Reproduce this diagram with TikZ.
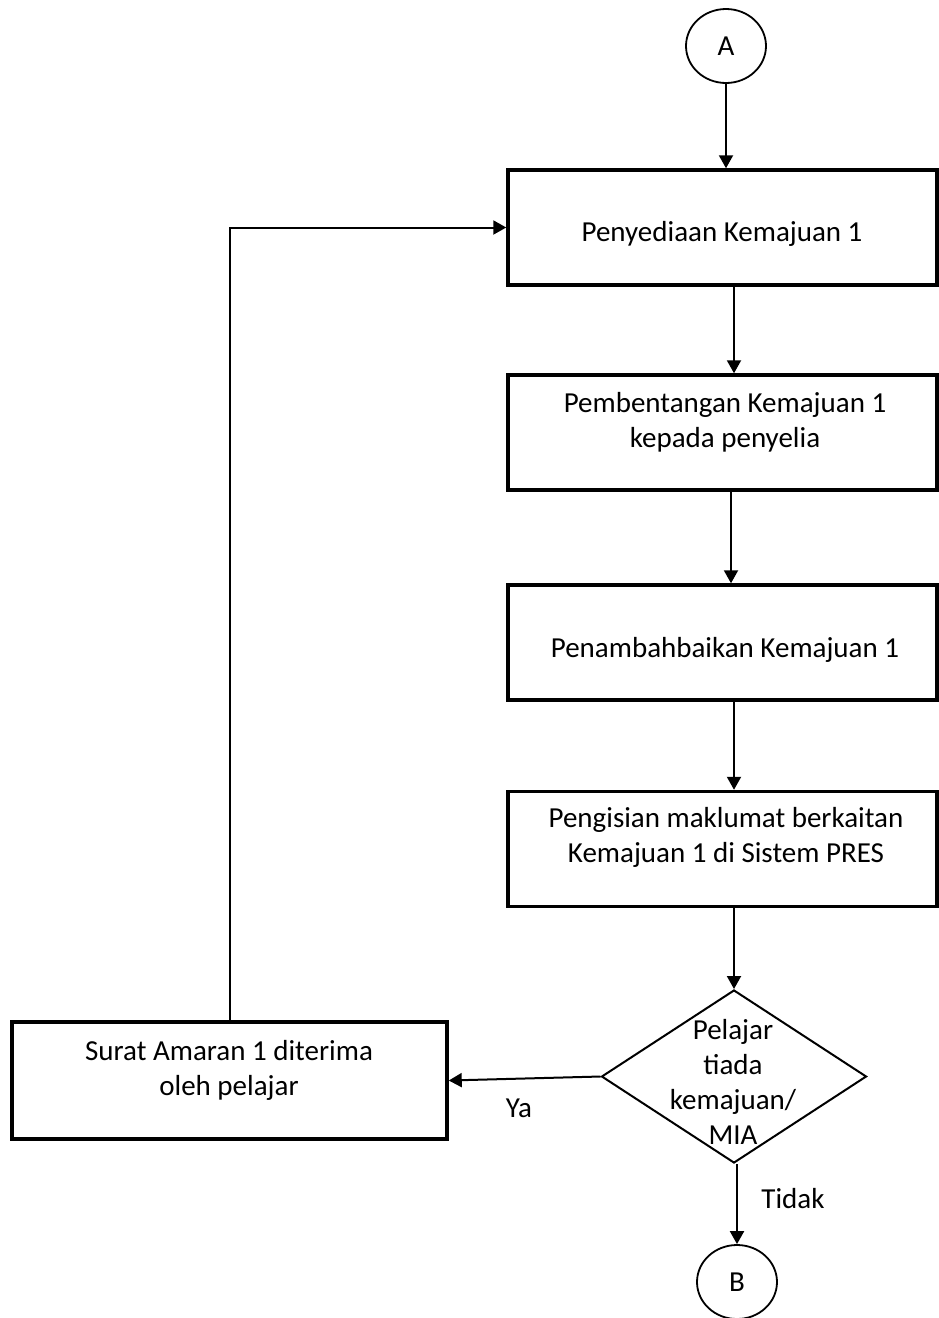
\documentclass[tikz,border=0pt]{standalone}
\usepackage{fontspec}
\setmainfont{Carlito}
\usetikzlibrary{arrows.meta,shapes.geometric}
\begin{document}
\begin{tikzpicture}[x=1pt,y=-1pt,
  every node/.style={font=\fontsize{29}{35}\selectfont, inner sep=0pt},
  stepbox/.style={draw, line width=3.5pt, rectangle, minimum width=429pt, minimum height=115pt},
  conn/.style={draw, ellipse, line width=1.8pt, minimum width=80pt, minimum height=74pt},
  decis/.style={draw, diamond, line width=2pt, minimum width=265pt, minimum height=173pt},
  txt/.style={align=center},
  arr/.style={line width=2pt, -{Triangle[length=13pt,width=14pt]}},
  ln/.style={line width=2pt}]
\useasboundingbox (0,0) rectangle (939,1318);
\clip (0,0) rectangle (939,1318);
\fill[white] (0,0) rectangle (939,1318);
% connectors
\node[conn] (A) at (726,46) {A};
\node[conn] (B) at (737,1282) {B};
% boxes
\node[stepbox] (b1) at (722.5,227.5) {};
\node[stepbox] (b2) at (722.5,432.5) {};
\node[stepbox] (b3) at (722.5,642.5) {};
\node[stepbox] (b4) at (722.5,849) {};
\node[stepbox, minimum width=435pt, minimum height=117pt] (b5) at (229.5,1080.5) {};
\node[decis] (dm) at (734,1076.5) {};
% texts
\node[txt] (t1) at (722,234) {Penyediaan Kemajuan 1};
\node[txt] (t2) at (725,422.5) {Pembentangan Kemajuan 1\\kepada penyelia};
\node[txt] (t3) at (725,649.5) {Penambahbaikan Kemajuan 1};
\node[txt] (t4) at (726,837) {Pengisian maklumat berkaitan\\Kemajuan 1 di Sistem PRES};
\node[txt] (t5) at (229,1070.5) {Surat Amaran 1 diterima\\oleh pelajar};
\node[txt] (t6) at (733,1082) {Pelajar\\tiada\\kemajuan/\\MIA};
\node (ya) at (519,1108) {Ya};
\node (tidak) at (793,1199) {Tidak};
% helper coordinates
\coordinate (x1) at (734,0);
\coordinate (x2) at (731,0);
\coordinate (x3) at (734,0);
% arrows
\draw[arr] (A.south) -- (A.south |- b1.north);
\draw[arr] (b1.south -| x1) -- (b2.north -| x1);
\draw[arr] (b2.south -| x2) -- (b3.north -| x2);
\draw[arr] (b3.south -| x3) -- (b4.north -| x3);
\draw[arr] (b4.south -| dm.north) -- (dm.north);
\draw[arr] (dm.west) -- (b5.east);
\draw[arr] (B.north |- dm.south) -- (B.north);
\draw[arr] (b5.north) |- (b1.west);
\end{tikzpicture}
\end{document}
